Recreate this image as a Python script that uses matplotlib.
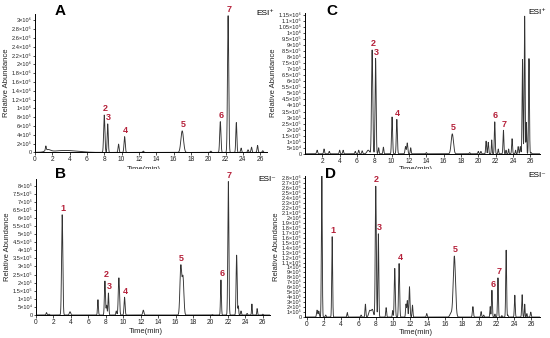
import numpy as np
import matplotlib.pyplot as plt
from matplotlib.transforms import Bbox, TransformedBbox

plt.rcParams['font.family'] = ['Liberation Sans', 'DejaVu Sans']

# peak tables: retention time (min), height (counts), width sigma (min)
# A - standards, ESI+
a_rt = [1.25, 1.5, 3.5, 8.0, 8.4, 9.65, 10.35, 12.5, 17.0, 20.3, 21.4, 22.3, 23.25, 23.8, 24.6, 25.0, 25.7, 26.3]
a_h = [1.0e5, 0.5e5, 0.45e5, 8.5e5, 6.5e5, 1.9e5, 3.6e5, 0.3e5, 4.9e5, 0.3e5, 7.0e5, 3.11e6, 6.8e5, 1.0e5, 0.6e5, 1.2e5, 1.6e5, 0.4e5]
a_w = [0.05, 0.3, 1.4, 0.07, 0.06, 0.06, 0.07, 0.07, 0.15, 0.07, 0.07, 0.07, 0.06, 0.06, 0.06, 0.06, 0.06, 0.06]
a_labels = ['2', '3', '4', '5', '6', '7']
a_label_rt = [8.0, 8.4, 10.35, 17.0, 21.4, 22.3]

# B - standards, ESI-
b_rt = [1.2, 1.5, 3.0, 3.9, 7.1, 7.9, 8.1, 8.3, 9.2, 9.5, 10.15, 12.3, 16.6, 16.85, 20.2, 21.2, 22.05, 23.0, 23.2, 23.5, 24.2, 24.75, 25.35, 26.0]
b_h = [0.15e5, 0.05e5, 6.2e5, 0.2e5, 0.95e5, 2.1e5, 0.6e5, 1.36e5, 0.25e5, 2.3e5, 1.1e5, 0.3e5, 3.0e5, 2.3e5, 0.03e5, 2.17e5, 8.25e5, 3.7e5, 0.55e5, 0.25e5, 0.1e5, 0.68e5, 0.4e5, 0.05e5]
b_w = [0.05, 0.05, 0.07, 0.08, 0.05, 0.06, 0.05, 0.05, 0.05, 0.07, 0.06, 0.07, 0.1, 0.1, 0.06, 0.05, 0.06, 0.06, 0.04, 0.05, 0.05, 0.04, 0.04, 0.05]
b_labels = ['1', '2', '3', '4', '5', '6', '7']
b_label_rt = [3.0, 7.9, 8.3, 10.15, 16.6, 21.2, 22.05]

# C - sample, ESI+
c_rt = [1.4, 2.2, 2.8, 4.0, 4.4, 5.8, 6.2, 6.6, 7.3, 7.75, 8.15, 8.5, 9.05, 10.05, 10.6, 11.6, 11.8, 12.2, 14.0, 17.0, 19.0, 20.0, 20.3,
        20.9, 21.15, 21.55, 21.9, 22.3, 22.9, 23.2, 23.5, 23.9, 24.3, 24.6, 24.85, 25.1, 25.35, 25.55, 25.85, 26.1]
c_h = [0.3e5, 0.4e5, 0.2e5, 0.3e5, 0.3e5, 0.2e5, 0.3e5, 0.25e5, 0.3e5, 8.6e5, 7.9e5, 0.5e5, 0.55e5, 3.05e5, 2.85e5, 0.6e5, 0.9e5, 0.5e5, 0.1e5, 1.65e5, 0.1e5, 0.2e5, 0.2e5,
       1.05e5, 0.95e5, 1.15e5, 2.65e5, 0.4e5, 1.95e5, 0.3e5, 0.4e5, 1.25e5, 0.3e5, 0.6e5, 0.6e5, 7.8e5, 1.14e6, 2.6e5, 7.9e5, 0.1e5]
c_w = [0.06, 0.05, 0.05, 0.05, 0.05, 0.05, 0.05, 0.05, 0.15, 0.07, 0.06, 0.05, 0.05, 0.06, 0.06, 0.06, 0.06, 0.05, 0.05, 0.13, 0.05, 0.05, 0.05,
       0.05, 0.05, 0.04, 0.05, 0.04, 0.05, 0.04, 0.04, 0.05, 0.04, 0.05, 0.05, 0.05, 0.05, 0.04, 0.05, 0.05]
c_labels = ['2', '3', '4', '5', '6', '7']
c_label_rt = [7.75, 8.15, 10.6, 17.0, 21.9, 22.9]

# D - sample, ESI-
d_rt = [1.2, 1.4, 1.75, 2.2, 2.95, 4.7, 6.3, 6.8, 7.3, 7.6, 8.0, 8.3, 9.2, 9.95, 10.2, 10.7, 11.5, 11.65, 11.9, 12.25, 13.9, 16.7, 17.1,
        19.25, 20.2, 20.5, 21.25, 21.45, 21.8, 22.15, 22.6, 23.1, 23.3, 24.1, 24.95, 25.25, 25.5, 25.95]
d_h = [1.4e5, 1.2e5, 2.85e6, 0.4e5, 1.62e6, 0.9e5, 0.4e5, 2.6e5, 1.3e5, 1.5e5, 2.64e6, 1.68e6, 1.9e5, 1.3e5, 9.8e5, 1.08e6, 2.6e5, 3.3e5, 6.1e5, 2.4e5, 0.7e5, 0.8e5, 1.23e6,
       2.1e5, 1.1e5, 0.4e5, 2.1e5, 5.4e5, 0.6e5, 7.9e5, 0.3e5, 1.35e6, 0.4e5, 4.4e5, 4.5e5, 2.6e5, 0.7e5, 1.0e5]
d_w = [0.06, 0.06, 0.05, 0.05, 0.05, 0.05, 0.05, 0.05, 0.12, 0.12, 0.06, 0.05, 0.05, 0.04, 0.06, 0.06, 0.05, 0.05, 0.06, 0.05, 0.05, 0.12, 0.13,
       0.06, 0.05, 0.05, 0.04, 0.05, 0.04, 0.05, 0.04, 0.05, 0.04, 0.05, 0.05, 0.04, 0.04, 0.05]
d_labels = ['1', '2', '3', '4', '5', '6', '7']
d_label_rt = [2.95, 8.0, 8.3, 10.7, 17.1, 21.45, 22.15]

red = '#b5213a'
line_col = '#333333'


def trace(t, rt, h, w):
    y = np.zeros_like(t)
    for r, hh, ww in zip(rt, h, w):
        y += hh * np.exp(-0.5 * ((t - r) / ww) ** 2)
    return y


def sup(n):
    return str(n).translate(str.maketrans('0123456789', '⁰¹²³⁴⁵⁶⁷⁸⁹'))


def sci(v):
    if v == 0:
        return '0'
    e = int(np.floor(np.log10(v) + 1e-9))
    m = v / 10 ** e
    ms = f'{m:.2f}'.rstrip('0').rstrip('.')
    return ms + '×10' + sup(e)


panels = [
    # letter, rect, xlim, ymax, ystep, ytop, first xtick, data, labels, ion, letter pos, xlabel y
    ('A', [0.0636, 0.549, 0.422, 0.41], (0, 26.8), 3.15e6, 2e5, 3e6, 0, (a_rt, a_h, a_w), (a_labels, a_label_rt), 'ESI⁺', (0.1, 0.968), 0.4985),
    ('B', [0.0655, 0.068, 0.425, 0.402], (0, 26.8), 8.4e5, 5e4, 8e5, 0, (b_rt, b_h, b_w), (b_labels, b_label_rt), 'ESI⁻', (0.1, 0.484), 0.019),
    ('C', [0.5545, 0.545, 0.427, 0.418], (0, 27.1), 1.17e6, 5e4, 1.15e6, 2, (c_rt, c_h, c_w), (c_labels, c_label_rt), 'ESI⁺', (0.593, 0.968), 0.4985),
    ('D', [0.5545, 0.062, 0.427, 0.418], (-0.2, 27.0), 2.85e6, 1e5, 2.8e6, 0, (d_rt, d_h, d_w), (d_labels, d_label_rt), 'ESI⁻', (0.591, 0.484), 0.016),
]

fig = plt.figure(figsize=(5.5, 3.38), dpi=100)

for letter, rect, xlim, ymax, ystep, ytop, x0, data, labs, ion, lpos, xly in panels:
    ax = fig.add_axes(rect)
    t = np.linspace(xlim[0], xlim[1], 4000)
    y = trace(t, *data)
    ax.plot(t, y, color=line_col, lw=0.65)
    ax.set_xlim(*xlim)
    ax.set_ylim(0, ymax)
    xt = np.arange(x0, 26.1, 2)
    ax.set_xticks(xt)
    ax.set_xticklabels([str(int(v)) for v in xt])
    yt = np.arange(0, ytop + ystep / 2, ystep)
    ax.set_yticks(yt)
    ax.set_yticklabels([sci(v) for v in yt])
    ax.tick_params(axis='y', labelsize=4.1, length=1.5, width=0.5, pad=1, labelcolor='#222222')
    ax.tick_params(axis='x', labelsize=4.8, length=1.8, width=0.5, pad=1, labelcolor='#222222')
    for s in ['top', 'right']:
        ax.spines[s].set_visible(False)
    for s in ['left', 'bottom']:
        ax.spines[s].set_linewidth(0.7)
    ax.set_ylabel('Relative Abundance', fontsize=5.5, labelpad=1.5, color='#222222')

    for lab, r in zip(*labs):
        yy = trace(np.array([r]), *data)[0]
        ax.annotate(lab, (r, yy), xytext=(0.6, 1.2), textcoords='offset points',
                    ha='center', va='bottom', color=red, fontsize=6.5,
                    fontweight='bold', annotation_clip=False)

    # panel letter and ion mode
    fig.text(lpos[0], lpos[1], letter, fontsize=11, fontweight='bold', ha='left', va='center')
    fig.text(rect[0] + rect[2] + 0.012, rect[1] + rect[3], ion, fontsize=6, ha='right', va='center')

    # x label (top row is half covered by the lower panels)
    xl = fig.text(rect[0] + rect[2] * 0.47, xly, 'Time(min)', fontsize=5.5,
                  ha='center', va='center', color='#222222')
    if letter in 'AC':
        xl.set_clip_box(TransformedBbox(Bbox([[0, 0.5], [1, 1]]), fig.transFigure))
        xl.set_clip_on(True)

fig.savefig('out.png', dpi=100)
